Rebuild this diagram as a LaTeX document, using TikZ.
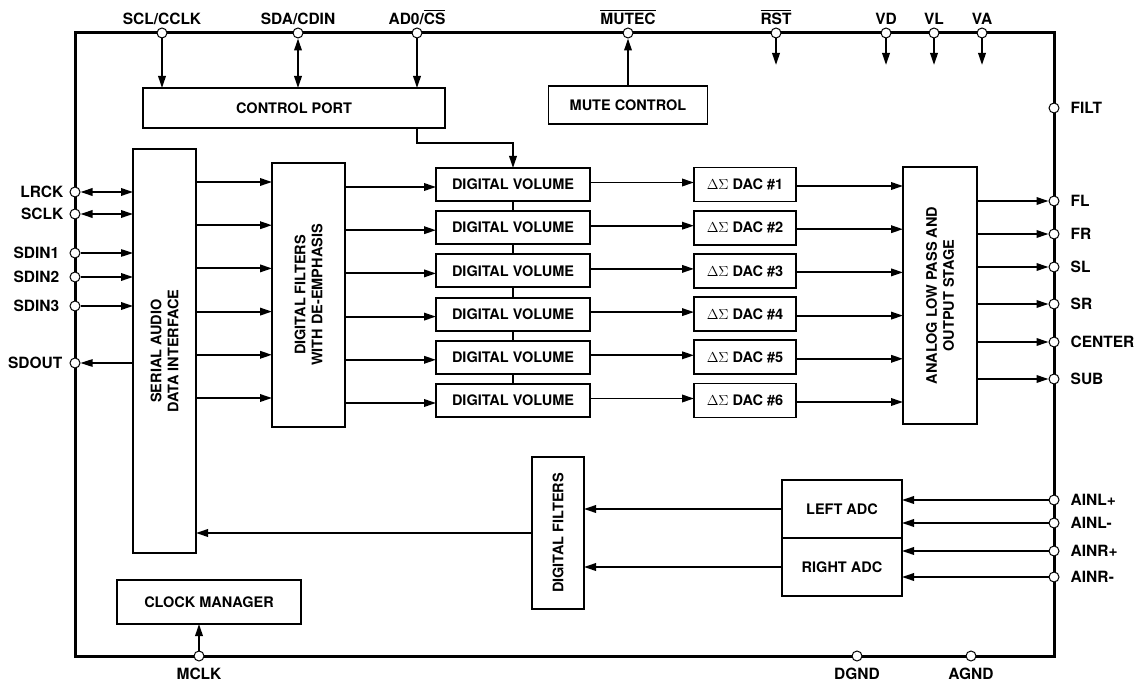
\documentclass[tikz,border=0pt]{standalone}
\usepackage{fontspec}
\setmainfont{TeX Gyre Heros}
\usetikzlibrary{arrows.meta,positioning}

\newcommand{\boxfont}{\fontsize{14.5}{17}\selectfont\bfseries}
\newcommand{\pinfont}{\fontsize{15.5}{18}\selectfont\bfseries}
% active-low pin name
\newcommand{\actlow}[1]{\setbox0=\hbox{#1}\rlap{\rule[\dimexpr\ht0+1.8pt\relax]{\wd0}{1.3pt}}\box0}

\begin{document}
\begin{tikzpicture}[x=1pt, y=-1pt,
    blk/.style={draw, line width=1.9pt, inner sep=0pt, outer sep=0pt, align=center, font=\boxfont},
    btxt/.style={inner sep=0pt, align=center, font=\boxfont},
    pad/.style={circle, draw, fill=white, line width=1pt, inner sep=0pt, minimum size=10pt},
    ptxt/.style={inner sep=0pt, font=\pinfont},
    sig/.style={line width=1.9pt, -{Triangle[length=12pt,width=7.5pt]}},
    sig2/.style={line width=1.9pt, {Triangle[length=12pt,width=7.5pt]}-{Triangle[length=12pt,width=7.5pt]}},
    wire/.style={line width=1.9pt}]

\useasboundingbox (0,0) rectangle (1139,684);

% chip outline
\draw[line width=3pt] (75,33) rectangle (1054,656);

% blocks
\node[blk, minimum width=302pt, minimum height=40pt] (ctrl) at (294,108) {CONTROL PORT};
\node[blk, minimum width=159pt, minimum height=38pt] (mute) at (628,105) {MUTE CONTROL};
\node[blk, minimum width=63pt, minimum height=404pt] (sdi) at (164.5,351) {};
\node[btxt, rotate=90] (sdi-t) at (sdi) {SERIAL AUDIO\\DATA INTERFACE};
\node[blk, minimum width=73pt, minimum height=264pt] (dfe) at (308.5,295) {};
\node[btxt, rotate=90] (dfe-t) at (dfe) {DIGITAL FILTERS\\WITH DE-EMPHASIS};
\foreach \i in {1,...,6} {
  \node[blk, minimum width=154pt, minimum height=33pt] (vol\i) at (513,141.3+43.2*\i) {DIGITAL VOLUME};
  \node[blk, minimum width=102pt, minimum height=34pt] (dac\i) at (745,141.3+43.2*\i) {$\Delta\Sigma$ DAC \#\i};
}
\node[blk, minimum width=74pt, minimum height=257pt] (aout) at (940,295.5) {};
\node[btxt, rotate=90] (aout-t) at (aout) {ANALOG LOW PASS AND\\OUTPUT STAGE};
\node[blk, minimum width=52pt, minimum height=152pt] (adf) at (558,533) {};
\node[btxt, rotate=90] (adf-t) at (adf) {DIGITAL FILTERS};
\node[blk, minimum width=120pt, minimum height=58pt] (ladc) at (842,509) {LEFT ADC};
\node[blk, minimum width=120pt, minimum height=58pt, anchor=north] (radc) at (ladc.south) {RIGHT ADC};
\node[blk, minimum width=184pt, minimum height=44pt] (clk) at (209,602) {CLOCK MANAGER};

% pins
\foreach \n/\x in {scl/162, sda/298, ad0/417, mutec/628, rst/776, vd/886, vl/934, va/982}
  \node[pad] (\n) at (\x,33) {};
\foreach \n/\y in {lrck/192, sclk/214, sdin1/253, sdin2/277, sdin3/306, sdout/363}
  \node[pad] (\n) at (75,\y) {};
\foreach \n/\y in {filt/108, fl/201, fr/234, sl/267, sr/304, center/342, sub/379,
                   ainlp/500, ainlm/523, ainrp/551, ainrm/577}
  \node[pad] (\n) at (1054,\y) {};
\foreach \n/\x in {mclk/199, dgnd/857, agnd/971}
  \node[pad] (\n) at (\x,656) {};

% pin names
\foreach \n/\t in {scl/{SCL/CCLK}, sda/{SDA/CDIN}, ad0/{AD0/\actlow{CS}}, mutec/{\actlow{MUTEC}},
                   rst/{\actlow{RST}}, vd/VD, vl/VL, va/VA}
  \node[ptxt, above=2.5pt of \n] (\n-l) {\t};
\foreach \n/\t/\d in {lrck/LRCK/6, sclk/SCLK/6, sdin1/SDIN1/10, sdin2/SDIN2/10, sdin3/SDIN3/10, sdout/SDOUT/7}
  \node[ptxt, left=\d pt of \n] (\n-l) {\t};
\foreach \n/\t in {filt/FILT, fl/FL, fr/FR, sl/SL, sr/SR, center/CENTER, sub/SUB,
                   ainlp/AINL+, ainlm/AINL-, ainrp/AINR+, ainrm/AINR-}
  \node[ptxt, right=11pt of \n] (\n-l) {\t};
\foreach \n/\t in {mclk/MCLK, dgnd/DGND, agnd/AGND}
  \node[ptxt, below=6pt of \n] (\n-l) {\t};

% control side
\draw[sig] (scl) -- (scl |- ctrl.north);
\draw[sig2] (sda) -- (sda |- ctrl.north);
\draw[sig] (ad0) -- (ad0 |- ctrl.north);
\draw[sig] (mutec |- mute.north) -- (mutec);
\draw[sig] (ctrl.south -| ad0) -- ++(0,15) -| (vol1.north);
\foreach \n in {rst,vd,vl,va}
  \draw[sig] (\n) -- ++(0,32);

% serial port
\draw[sig2] (lrck) -- (lrck -| sdi.west);
\draw[sig2] (sclk) -- (sclk -| sdi.west);
\draw[sig, line width=1.1pt] (sdin1) -- (sdin1 -| sdi.west);
\draw[sig] (sdin2) -- (sdin2 -| sdi.west);
\draw[sig] (sdin3) -- (sdin3 -| sdi.west);
\draw[sig, line width=1.1pt] (sdi.west |- sdout) -- (sdout);

% playback path
\foreach \i in {1,...,6} {
  \coordinate (r\i) at ([yshift=2.5pt]vol\i.west);
  \coordinate (s\i) at ([yshift=-2.5pt]vol\i.west);
  \coordinate (d\i) at ([yshift=-1.5pt]dac\i.east);
  \draw[sig] (sdi.east |- r\i) -- (dfe.west |- r\i);
  \draw[sig] (dfe.east |- s\i) -- (s\i);
  \draw[sig] ([yshift=2pt]vol\i.east) -- ([yshift=2pt]dac\i.west);
  \draw[sig] (d\i) -- (aout.west |- d\i);
}
\foreach \i/\j in {1/2, 2/3, 3/4, 4/5, 5/6}
  \draw[wire] (vol\i) -- (vol\j);
\foreach \n in {fl,fr,sl,sr,center,sub}
  \draw[sig] (aout.east |- \n) -- (\n);

% record path
\draw[sig] (ainlp) -- (ainlp -| ladc.east);
\draw[sig] (ainlm) -- (ainlm -| ladc.east);
\draw[sig] (ainrp) -- (ainrp -| radc.east);
\draw[sig] (ainrm) -- (ainrm -| radc.east);
\draw[sig] (ladc.west) -- (ladc.west -| adf.east);
\draw[sig] (radc.west) -- (radc.west -| adf.east);
\draw[sig] (adf.west) -- (adf.west -| sdi.east);

% clock
\draw[sig] (mclk) -- (mclk |- clk.south);
\end{tikzpicture}
\end{document}
